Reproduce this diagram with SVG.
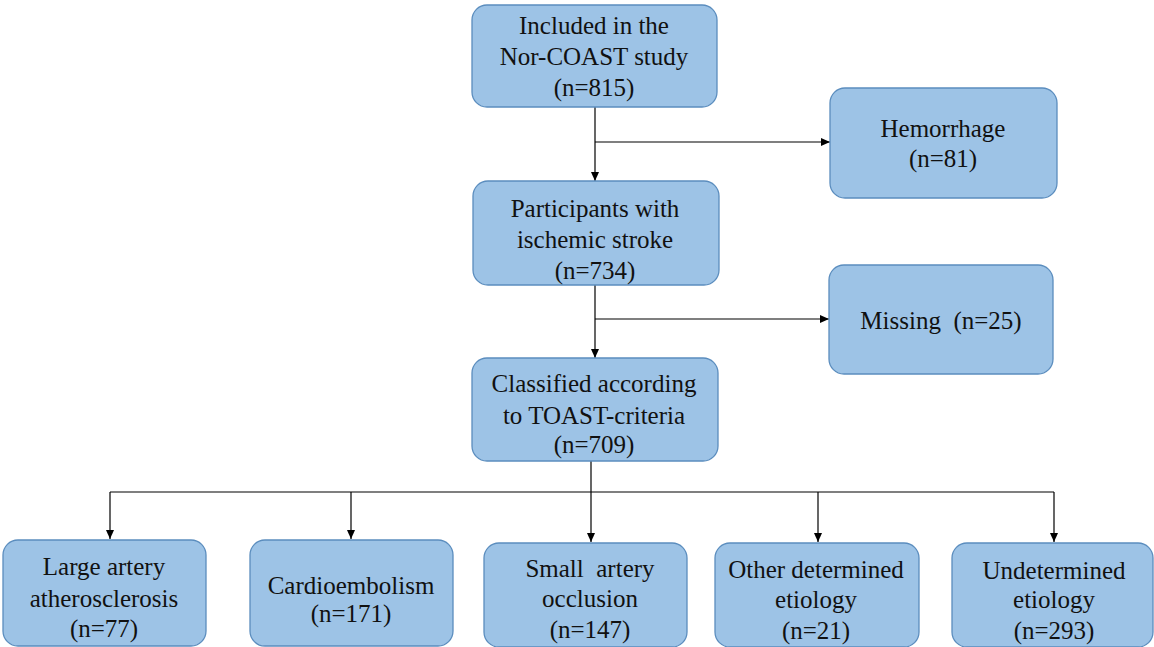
<svg xmlns="http://www.w3.org/2000/svg" width="1154" height="647" viewBox="0 0 1154 647">
<style>
.box{fill:#9DC3E6;stroke:#5B8DBE;stroke-width:1.3}
.t{font-family:"Liberation Serif","Times New Roman",serif;font-size:25px;fill:#111;text-anchor:middle}
.c{fill:none;stroke:#000;stroke-width:1.2}
</style>
<defs>
<marker id="a" markerWidth="10" markerHeight="10" refX="9" refY="5" orient="auto" markerUnits="userSpaceOnUse">
<path d="M0,1 L9,5 L0,9 Z" fill="#000"/>
</marker>
</defs>
<rect width="1154" height="647" fill="#fff"/>
<g id="connectors">
<path class="c" d="M595,107 V181" marker-end="url(#a)"/>
<path class="c" d="M595,142 H830" marker-end="url(#a)"/>
<path class="c" d="M595,285 V358" marker-end="url(#a)"/>
<path class="c" d="M595,319 H829" marker-end="url(#a)"/>
<path class="c" d="M591,461 V492"/>
<path class="c" d="M110,492 H1054"/>
<path class="c" d="M110,492 V539" marker-end="url(#a)"/>
<path class="c" d="M351,492 V539" marker-end="url(#a)"/>
<path class="c" d="M591,492 V542" marker-end="url(#a)"/>
<path class="c" d="M818,492 V542" marker-end="url(#a)"/>
<path class="c" d="M1054,492 V542" marker-end="url(#a)"/>
</g>
<g id="n1"><rect class="box" x="472" y="5" width="245" height="102" rx="15"/>
<text class="t" x="594" y="34">Included in the</text><text class="t" x="594" y="65">Nor-COAST study</text><text class="t" x="594" y="96">(n=815)</text></g>
<g id="n2"><rect class="box" x="830" y="88" width="227" height="110" rx="15"/>
<text class="t" x="943" y="137">Hemorrhage</text><text class="t" x="943" y="167">(n=81)</text></g>
<g id="n3"><rect class="box" x="473" y="181" width="246" height="104" rx="15"/>
<text class="t" x="595" y="217">Participants with</text><text class="t" x="595" y="248">ischemic stroke</text><text class="t" x="595" y="279">(n=734)</text></g>
<g id="n4"><rect class="box" x="829" y="265" width="224" height="109" rx="15"/>
<text class="t" x="941" y="329" xml:space="preserve">Missing  (n=25)</text></g>
<g id="n5"><rect class="box" x="472" y="358" width="246" height="103" rx="15"/>
<text class="t" x="594" y="392">Classified according</text><text class="t" x="594" y="424">to TOAST-criteria</text><text class="t" x="594" y="453">(n=709)</text></g>
<g id="n6"><rect class="box" x="3" y="540" width="203" height="106" rx="15"/>
<text class="t" x="104" y="575">Large artery</text><text class="t" x="104" y="607">atherosclerosis</text><text class="t" x="104" y="637">(n=77)</text></g>
<g id="n7"><rect class="box" x="250" y="540" width="203" height="106" rx="15"/>
<text class="t" x="351" y="594">Cardioembolism</text><text class="t" x="351" y="622">(n=171)</text></g>
<g id="n8"><rect class="box" x="484" y="543" width="203" height="104" rx="15"/>
<text class="t" x="590" y="577" xml:space="preserve">Small  artery</text><text class="t" x="590" y="607">occlusion</text><text class="t" x="590" y="638">(n=147)</text></g>
<g id="n9"><rect class="box" x="715" y="543" width="204" height="104" rx="15"/>
<text class="t" x="816" y="578">Other determined</text><text class="t" x="816" y="608">etiology</text><text class="t" x="816" y="639">(n=21)</text></g>
<g id="n10"><rect class="box" x="952" y="543" width="201" height="104" rx="15"/>
<text class="t" x="1054" y="579">Undetermined</text><text class="t" x="1054" y="608">etiology</text><text class="t" x="1054" y="639">(n=293)</text></g>
</svg>
